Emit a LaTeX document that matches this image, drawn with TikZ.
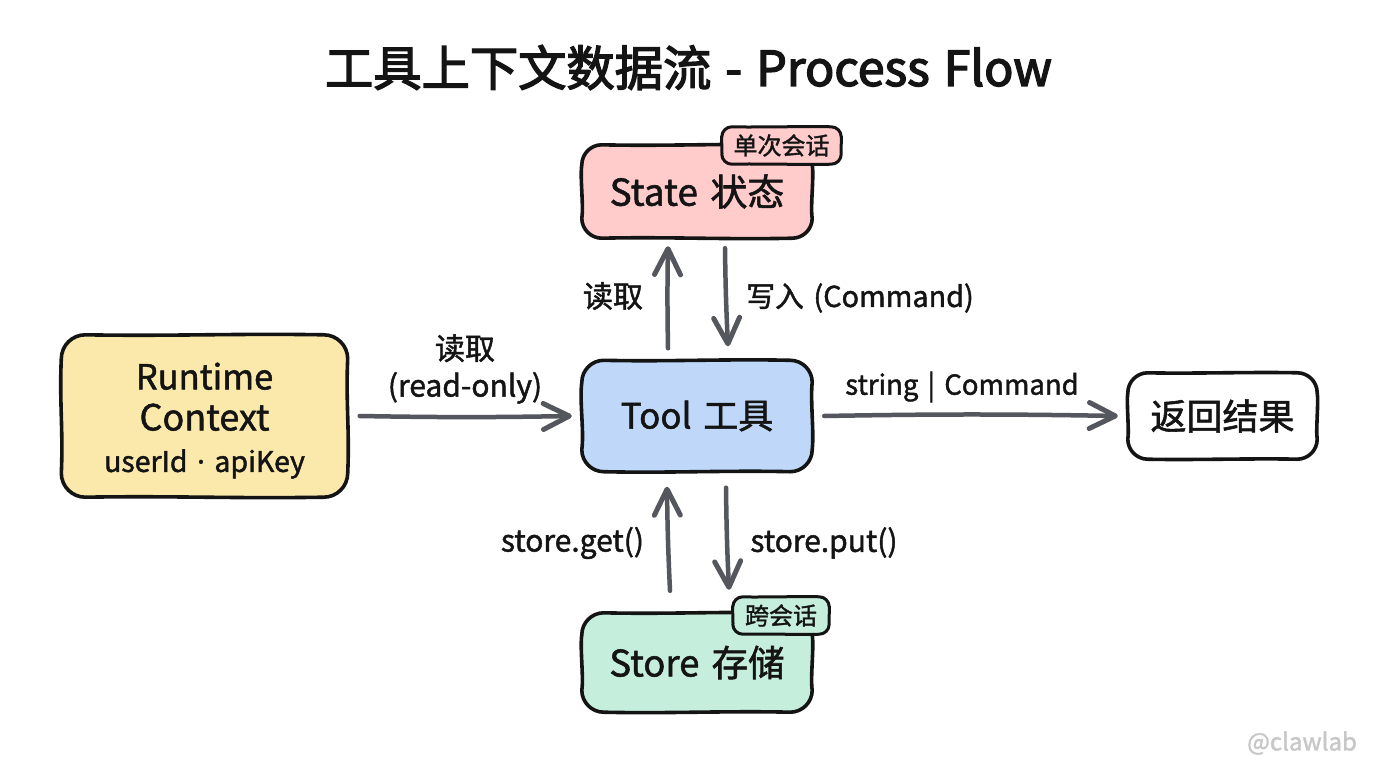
\documentclass[tikz,border=0pt]{standalone}
\usepackage{fontspec}
\setmainfont[FakeBold=1.5,WordSpace=1.5]{Noto Sans CJK SC}
\newfontfamily\titlefont[FakeBold=2.8,WordSpace=1.3]{Noto Sans CJK SC}
\newfontfamily\dotfont[FakeBold=1.5]{Noto Sans}
\usetikzlibrary{arrows.meta,calc,positioning}
\definecolor{ink}{HTML}{141414}
\definecolor{arrowgray}{HTML}{55575E}
\definecolor{statefill}{HTML}{FFCBCB}
\definecolor{toolfill}{HTML}{BFD8FA}
\definecolor{ctxfill}{HTML}{FBE9AC}
\definecolor{storefill}{HTML}{C6EEDD}
\tikzset{
  x=1pt,y=-1pt,
  box/.style={rounded corners=22pt,inner sep=0pt,align=center,font=\fontsize{36}{41}\selectfont,text=ink},
  outline/.style={draw=ink,line width=3.6pt,line join=round},
  badge/.style={rounded corners=10pt,inner sep=0pt,font=\fontsize{24}{28}\selectfont,text=ink},
  flow/.style={draw=arrowgray,line width=4.5pt,line cap=round,-{Straight Barb[length=26pt,width=26pt,line width=5pt,round]}},
  lbl/.style={inner sep=0pt,font=\fontsize{30}{37}\selectfont,text=ink,align=center},
}
% node, radius, wobble of top, right, bottom, left side
\newcommand{\sketchoutline}[7][outline]{%
\draw[#1] ($(#2.north west)+(#3,0)$)
 .. controls ($(#2.north)+(-30,#4)$) and ($(#2.north)+(30,-1*#4)$) .. ($(#2.north east)+(-#3,0)$)
 .. controls ($(#2.north east)+(-0.45*#3,0)$) and ($(#2.north east)+(0,0.45*#3)$) .. ($(#2.north east)+(0,#3)$)
 .. controls ($(#2.east)+(#5,-15)$) and ($(#2.east)+(-1*#5,15)$) .. ($(#2.south east)+(0,-#3)$)
 .. controls ($(#2.south east)+(0,-0.45*#3)$) and ($(#2.south east)+(-0.45*#3,0)$) .. ($(#2.south east)+(-#3,0)$)
 .. controls ($(#2.south)+(30,#6)$) and ($(#2.south)+(-30,-1*#6)$) .. ($(#2.south west)+(#3,0)$)
 .. controls ($(#2.south west)+(0.45*#3,0)$) and ($(#2.south west)+(0,-0.45*#3)$) .. ($(#2.south west)+(0,-#3)$)
 .. controls ($(#2.west)+(#7,15)$) and ($(#2.west)+(-1*#7,-15)$) .. ($(#2.north west)+(0,#3)$)
 .. controls ($(#2.north west)+(0,0.45*#3)$) and ($(#2.north west)+(0.45*#3,0)$) .. cycle;}
\begin{document}
\begin{tikzpicture}
\useasboundingbox (0,0) rectangle (1376,768);
\fill[white] (0,0) rectangle (1376,768);
\node[inner sep=0pt,text=ink] (title) at (688.5,67.5) {\fontsize{48.3}{50}\titlefont 工具上下文数据流 - Process Flow};
\node[box,fill=statefill,minimum width=230pt,minimum height=93pt,font=\fontsize{37}{41}\selectfont] (state) at (697,191.5) {State 状态};
\sketchoutline{state}{20}{1.5}{2}{1.5}{2}
\node[box,fill=toolfill,minimum width=230pt,minimum height=111pt,font=\fontsize{35}{41}\selectfont] (tool) at (697,416) {Tool 工具};
\sketchoutline{tool}{22}{1.5}{-2}{-1.5}{2.5}
\node[box,fill=storefill,minimum width=230pt,minimum height=99pt,font=\fontsize{36.5}{41}\selectfont] (store) at (697,662.5) {Store 存储};
\sketchoutline{store}{22}{1.5}{2}{-1.5}{2}
\node[box,fill=ctxfill,minimum width=286pt,minimum height=162pt] (ctx) at (204.5,416) {\rule{0pt}{36pt}{\fontsize{34.5}{41}\selectfont Runtime}\\Context\\[0.5pt]{\fontsize{28.5}{34}\selectfont userId {\dotfont ·} apiKey}};
\sketchoutline{ctx}{24}{1.5}{-2}{1.5}{2}
\node[box,fill=white,minimum width=189pt,minimum height=86pt] (result) at (1222.5,416) {返回结果};
\sketchoutline{result}{20}{1}{1.5}{-1}{1.5}
\node[badge,fill=statefill,minimum width=119pt,minimum height=37pt] (badgeA) at (781.5,145.5) {单次会话};
\sketchoutline[outline,line width=3pt]{badgeA}{10}{0.7}{0.7}{0.7}{0.7}
\node[badge,fill=storefill,minimum width=96pt,minimum height=37pt] (badgeB) at (781,615.5) {跨会话};
\sketchoutline[outline,line width=3pt]{badgeB}{10}{0.7}{0.7}{0.7}{0.7}
\draw[flow] ([xshift=-29pt,yshift=12pt]tool.north) to[bend left=1] ([xshift=-29pt,yshift=-8pt]state.south);
\draw[flow] ([xshift=28pt,yshift=-10pt]state.south) to[bend right=1] ([xshift=31pt,yshift=14pt]tool.north);
\draw[flow] ([xshift=-27pt,yshift=22pt]store.north) to[bend left=1] ([xshift=-30pt,yshift=-15pt]tool.south);
\draw[flow] ([xshift=29pt,yshift=-16pt]tool.south) to[bend right=1] ([xshift=32pt,yshift=23pt]store.north);
\draw[flow] ([xshift=12pt]ctx.east) to[bend right=1] ([xshift=-10pt]tool.west);
\draw[flow] ([xshift=12pt]tool.east) to[bend left=1] ([xshift=-10pt]result.west);
\node[lbl] (l1) at (465,369) {读取\\(read-only)};
\node[lbl] (l2) at (613,296) {读取};
\node[lbl,font=\fontsize{28.8}{37}\selectfont] (l3) at (860,298) {写入 (Command)};
\node[lbl,font=\fontsize{27.5}{37}\selectfont] (l4) at (962,387) {string | Command};
\node[lbl] (l5) at (572.5,543) {store.get()};
\node[lbl] (l6) at (824,543) {store.put()};
\node[inner sep=0pt,text=black!22,font=\fontsize{24}{28}\selectfont] (mark) at (1302,743) {@clawlab};
\end{tikzpicture}
\end{document}
